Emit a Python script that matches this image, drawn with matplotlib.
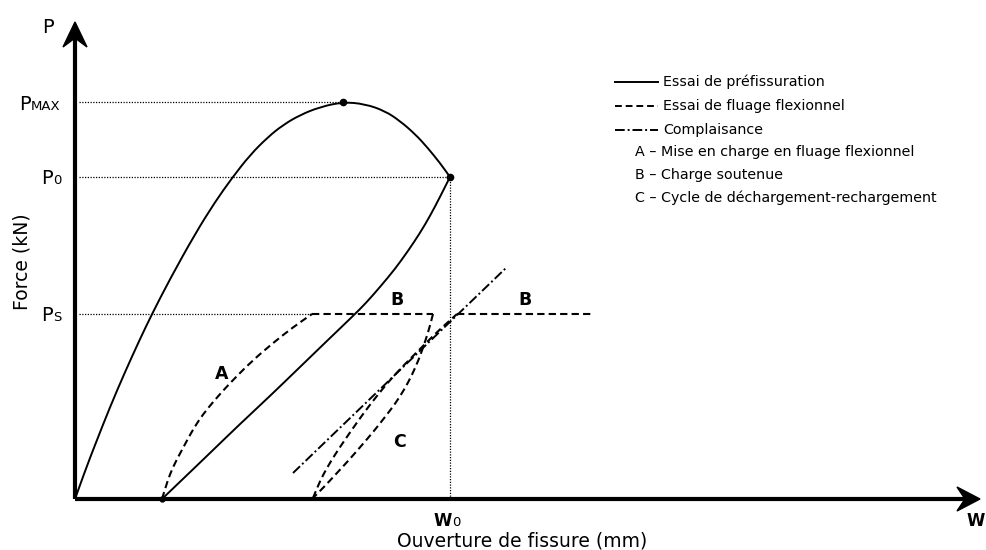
import numpy as np
import matplotlib.pyplot as plt
from matplotlib.path import Path
from matplotlib.patches import PathPatch

plt.rcParams['font.family'] = ['DejaVu Sans']

# points; w to the right, P upwards, origin at the axes corner
w_pre = [0, 10, 20, 35, 50, 65, 77, 95, 120, 140, 157, 175, 193, 208, 225, 245,
         268, 290, 310, 325, 340, 352, 365, 375]
P_pre = [0, 28, 54, 92, 127, 160, 185, 220, 265, 297, 321, 344, 362, 374, 384, 392,
         397, 395, 388, 378, 365, 352, 336, 322]

# unloading branch of the precracking test
w_unl = [375, 365, 355, 345, 333, 320, 305, 291, 278, 255, 225, 195, 165, 135, 110, 87]
P_unl = [322, 302, 283, 266, 248, 230, 212, 196, 183, 161, 132, 103, 75, 46, 22, 0]

# creep test pieces: A loading, B sustained, C unload / reload, B again
w_A = [87, 90, 95, 101, 108, 116, 124, 133, 145, 158, 177, 198, 217, 237]
P_A = [0, 10, 25, 38, 51, 66, 79, 91, 105, 119, 138, 156, 171, 185]
w_B1 = [237, 358]
P_B1 = [185, 185]
w_C1 = [358, 355, 350, 344, 337, 329, 320, 310, 299, 287, 274, 261, 249, 238]
P_C1 = [185, 173, 157, 140, 124, 109, 95, 82, 68, 54, 39, 25, 12, 1]
w_C2 = [238, 242, 248, 256, 265, 276, 288, 301, 315, 330, 345, 360, 372, 382]
P_C2 = [1, 11, 24, 38, 52, 68, 85, 102, 119, 135, 150, 165, 176, 185]
w_B2 = [382, 517]
P_B2 = [185, 185]

w_comp = [218, 432]
P_comp = [26, 232]

P_max, P_0, P_s = 397, 322, 185
w_pmax, w_0, w_s = 268, 375, 237
w_end, P_end = 905, 477

legend_lines = ['Essai de préfissuration', 'Essai de fluage flexionnel', 'Complaisance']
legend_styles = ['-', (0, (3.5, 2)), (0, (5, 1.5, 1, 1.5))]
legend_notes = ['A – Mise en charge en fluage flexionnel',
                'B – Charge soutenue',
                'C – Cycle de déchargement-rechargement']


def smooth(w, P):
    pts = np.column_stack([w, P]).astype(float)
    verts = [pts[0]]
    codes = [Path.MOVETO]
    for i in range(1, len(pts) - 1):
        verts += [pts[i], (pts[i] + pts[i + 1]) / 2]
        codes += [Path.CURVE3, Path.CURVE3]
    verts.append(pts[-1])
    codes.append(Path.LINETO)
    return Path(verts, codes)


def curve(ax, w, P, **kw):
    ax.add_patch(PathPatch(smooth(w, P), fill=False, color='k', **kw))


fig = plt.figure(figsize=(9.86, 5.5), dpi=100)
ax = fig.add_axes([0, 0, 1, 1])
ax.set_xlim(-75, 911)
ax.set_ylim(-51, 499)
ax.axis('off')

# axes with arrow heads
ax.plot([0, 0], [0, P_end - 14], color='k', lw=3, solid_capstyle='butt')
ax.plot([0, w_end - 14], [0, 0], color='k', lw=3, solid_capstyle='butt')
ax.fill([0, -12, 0, 12], [P_end, P_end - 25, P_end - 16, P_end - 25], color='k')
ax.fill([w_end, w_end - 23, w_end - 15, w_end - 23], [0, 12, 0, -12], color='k')

# dotted guides
dot = dict(color='k', lw=0.9, ls=(0, (1, 1.2)))
ax.plot([4, w_pmax], [P_max, P_max], **dot)
ax.plot([4, w_0], [P_0, P_0], **dot)
ax.plot([4, w_s], [P_s, P_s], **dot)
ax.plot([w_0, w_0], [0, P_0], **dot)

curve(ax, w_pre, P_pre, lw=1.4)
curve(ax, w_unl, P_unl, lw=1.4)
for w, P in [(w_A, P_A), (w_B1, P_B1), (w_C1, P_C1), (w_C2, P_C2), (w_B2, P_B2)]:
    curve(ax, w, P, lw=1.5, ls=legend_styles[1])
ax.plot(w_comp, P_comp, color='k', lw=1.4, ls=legend_styles[2])
ax.plot([w_pmax, w_0], [P_max, P_0], 'o', color='k', ms=4.5)
ax.plot([87], [0], 'o', color='k', ms=3.5)

# axis texts
ax.text(-27, 466, 'P', fontsize=14, ha='center', va='baseline')
ax.text(-44, P_max - 8, 'P', fontsize=14, ha='right', va='baseline')
ax.text(-44, P_max - 8, 'MAX', fontsize=9.5, ha='left', va='baseline')
ax.text(-22, P_0 - 7, 'P', fontsize=14, ha='right', va='baseline')
ax.text(-22, P_0 - 7, '0', fontsize=9.5, ha='left', va='baseline')
ax.text(-22, P_s - 7, 'P', fontsize=14, ha='right', va='baseline')
ax.text(-22, P_s - 7, 'S', fontsize=9.5, ha='left', va='baseline')
ax.text(w_0 + 2, -27, 'W', fontsize=12, fontweight='bold', ha='right', va='baseline')
ax.text(w_0 + 2.5, -27, '0', fontsize=9.5, ha='left', va='baseline')
ax.text(901, -27, 'W', fontsize=12, fontweight='bold', ha='center', va='baseline')
ax.text(-53, 237, 'Force (kN)', fontsize=13.5, rotation=90, ha='center', va='center')
ax.text(447, -42, 'Ouverture de fissure (mm)', fontsize=13.5, ha='center', va='center')

# zone letters
for w, P, s in [(147, 125, 'A'), (322, 199, 'B'), (450, 199, 'B'), (325, 57, 'C')]:
    ax.text(w, P, s, fontsize=12.5, fontweight='bold', ha='center', va='center')

# legend
for i, (lab, st) in enumerate(zip(legend_lines, legend_styles)):
    P = 417 - 24 * i
    ax.plot([540, 583], [P, P], color='k', lw=1.4, ls=st)
    ax.text(588, P, lab, fontsize=10.3, ha='left', va='center')
for i, lab in enumerate(legend_notes):
    ax.text(560, 347 - 23 * i, lab, fontsize=10.3, ha='left', va='center')

fig.savefig('out.png', dpi=100)
